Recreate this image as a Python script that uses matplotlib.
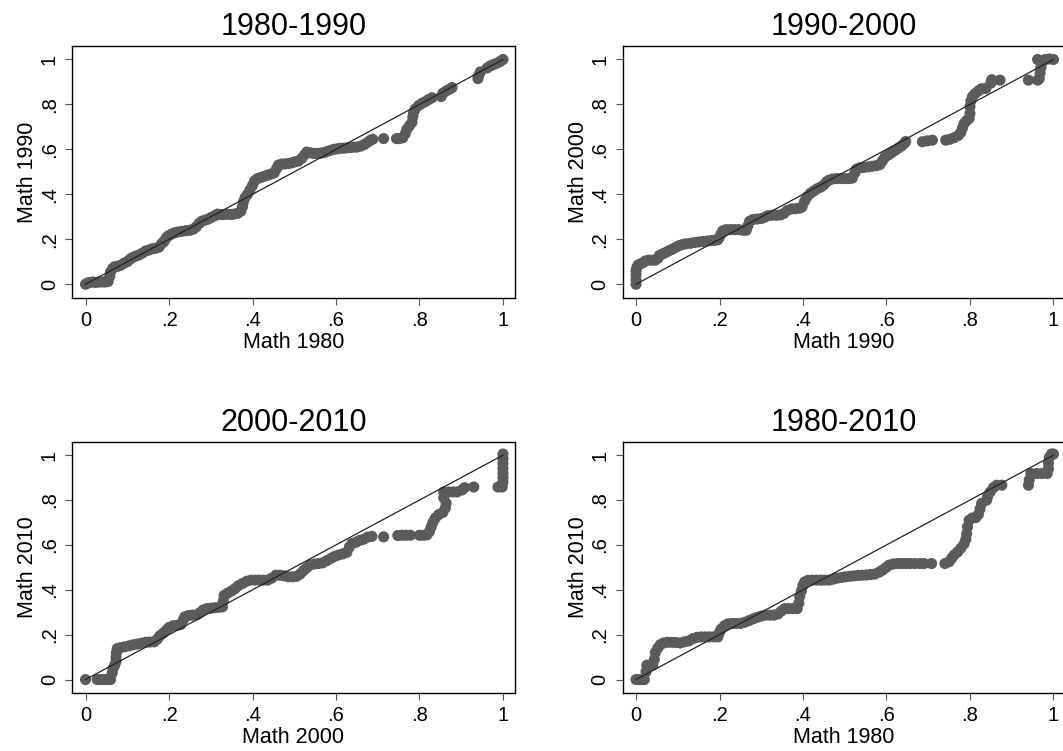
import matplotlib
matplotlib.use("Agg")
import matplotlib.pyplot as plt

plt.rcParams['font.family'] = ['Liberation Sans', 'DejaVu Sans']

# ---------------- data ----------------
titles = ["1980-1990", "1990-2000", "2000-2010", "1980-2010"]
xlabels = ["Math 1980", "Math 1990", "Math 2000", "Math 1980"]
ylabels = ["Math 1990", "Math 2000", "Math 2010", "Math 2010"]
tick_values = [0, 0.2, 0.4, 0.6, 0.8, 1.0]
tick_labels = ["0", ".2", ".4", ".6", ".8", "1"]
ref_line = [0.0, 1.0]

p1_x = [0, 0.005, 0.01, 0.018, 0.025, 0.032, 0.04, 0.047, 0.054, 0.058, 0.06, 0.065, 0.07, 0.078,
        0.085, 0.092, 0.1, 0.106, 0.112, 0.12, 0.128, 0.136, 0.144, 0.152, 0.16, 0.168, 0.176, 0.182,
        0.188, 0.193, 0.198, 0.205, 0.212, 0.22, 0.23, 0.24, 0.25, 0.258, 0.265, 0.272, 0.278, 0.286,
        0.294, 0.302, 0.31, 0.316, 0.324, 0.332, 0.34, 0.348, 0.356, 0.364, 0.372, 0.376, 0.378, 0.382,
        0.388, 0.394, 0.4, 0.405, 0.412, 0.42, 0.428, 0.436, 0.444, 0.452, 0.458, 0.462, 0.47, 0.478,
        0.486, 0.494, 0.502, 0.51, 0.518, 0.524, 0.53, 0.538, 0.546, 0.554, 0.562, 0.57, 0.578, 0.586,
        0.594, 0.602, 0.61, 0.618, 0.626, 0.634, 0.642, 0.65, 0.66, 0.668, 0.675, 0.682, 0.688, 0.714,
        0.745, 0.752, 0.76, 0.766, 0.77, 0.776, 0.782, 0.784, 0.786, 0.79, 0.798, 0.806, 0.814, 0.822,
        0.83, 0.852, 0.856, 0.864, 0.872, 0.878, 0.94, 0.942, 0.946, 0.962, 0.97, 0.978, 0.986, 0.994, 1.0]
p1_y = [0, 0.005, 0.008, 0.01, 0.008, 0.01, 0.01, 0.01, 0.012, 0.035, 0.055, 0.07, 0.078, 0.08,
        0.085, 0.093, 0.1, 0.11, 0.118, 0.125, 0.13, 0.138, 0.148, 0.152, 0.158, 0.16, 0.165, 0.18,
        0.19, 0.205, 0.215, 0.222, 0.228, 0.232, 0.235, 0.238, 0.24, 0.245, 0.255, 0.27, 0.28, 0.285,
        0.29, 0.298, 0.305, 0.312, 0.31, 0.31, 0.312, 0.31, 0.312, 0.315, 0.325, 0.345, 0.365, 0.385,
        0.4, 0.42, 0.44, 0.46, 0.47, 0.475, 0.48, 0.485, 0.49, 0.495, 0.515, 0.53, 0.535, 0.535,
        0.537, 0.54, 0.545, 0.548, 0.56, 0.575, 0.588, 0.585, 0.582, 0.582, 0.583, 0.585, 0.59, 0.595,
        0.6, 0.602, 0.605, 0.605, 0.607, 0.608, 0.61, 0.61, 0.615, 0.622, 0.63, 0.64, 0.645, 0.648,
        0.648, 0.648, 0.652, 0.67, 0.69, 0.705, 0.72, 0.745, 0.765, 0.78, 0.795, 0.805, 0.812, 0.822,
        0.83, 0.835, 0.85, 0.86, 0.868, 0.875, 0.915, 0.93, 0.945, 0.962, 0.972, 0.978, 0.984, 0.992, 1.0]

p2_x = [0, 0, 0, 0, 0.002, 0.005, 0.01, 0.016, 0.022, 0.03, 0.038, 0.046, 0.052, 0.056, 0.064, 0.072,
        0.08, 0.088, 0.096, 0.104, 0.112, 0.12, 0.13, 0.14, 0.15, 0.16, 0.17, 0.18, 0.188, 0.196, 0.2,
        0.204, 0.208, 0.216, 0.226, 0.236, 0.246, 0.256, 0.264, 0.268, 0.272, 0.28, 0.29, 0.3, 0.308,
        0.316, 0.326, 0.336, 0.346, 0.354, 0.362, 0.372, 0.382, 0.392, 0.398, 0.404, 0.41, 0.418, 0.426,
        0.434, 0.442, 0.45, 0.456, 0.462, 0.47, 0.48, 0.49, 0.5, 0.51, 0.518, 0.524, 0.528, 0.536, 0.546,
        0.556, 0.566, 0.576, 0.584, 0.59, 0.596, 0.604, 0.612, 0.62, 0.628, 0.636, 0.642, 0.646, 0.686,
        0.698, 0.71, 0.742, 0.752, 0.762, 0.772, 0.778, 0.782, 0.786, 0.792, 0.798, 0.8, 0.8, 0.802,
        0.806, 0.812, 0.82, 0.828, 0.838, 0.85, 0.852, 0.872, 0.94, 0.962, 0.966, 0.968, 0.97, 0.972,
        0.962, 0.98, 0.99, 1.0]
p2_y = [0, 0.02, 0.04, 0.06, 0.075, 0.085, 0.09, 0.095, 0.103, 0.107, 0.107, 0.107, 0.115, 0.128, 0.135,
        0.142, 0.15, 0.157, 0.165, 0.172, 0.177, 0.18, 0.182, 0.185, 0.188, 0.19, 0.192, 0.194, 0.195,
        0.198, 0.21, 0.225, 0.238, 0.243, 0.243, 0.243, 0.243, 0.24, 0.24, 0.26, 0.28, 0.288, 0.29, 0.292,
        0.298, 0.305, 0.307, 0.307, 0.308, 0.315, 0.328, 0.335, 0.336, 0.338, 0.345, 0.37, 0.39, 0.405,
        0.415, 0.425, 0.432, 0.442, 0.455, 0.463, 0.468, 0.47, 0.47, 0.47, 0.47, 0.472, 0.495, 0.512,
        0.518, 0.52, 0.522, 0.525, 0.528, 0.532, 0.548, 0.565, 0.575, 0.585, 0.595, 0.605, 0.615, 0.625,
        0.635, 0.634, 0.638, 0.641, 0.641, 0.645, 0.652, 0.662, 0.675, 0.695, 0.715, 0.728, 0.738, 0.76,
        0.79, 0.815, 0.835, 0.848, 0.86, 0.87, 0.871, 0.895, 0.91, 0.908, 0.908, 0.908, 0.915, 0.94,
        0.965, 0.985, 1.0, 1.0, 1.002, 1.0]

p3_x = [0, 0.028, 0.036, 0.044, 0.052, 0.06, 0.064, 0.066, 0.07, 0.073, 0.073, 0.074, 0.076, 0.084,
        0.094, 0.104, 0.114, 0.124, 0.134, 0.144, 0.154, 0.164, 0.172, 0.178, 0.186, 0.194, 0.2, 0.21,
        0.22, 0.228, 0.234, 0.238, 0.246, 0.256, 0.266, 0.274, 0.282, 0.29, 0.3, 0.31, 0.32, 0.328, 0.33,
        0.332, 0.34, 0.35, 0.358, 0.366, 0.376, 0.386, 0.396, 0.406, 0.416, 0.426, 0.436, 0.446, 0.456,
        0.466, 0.476, 0.486, 0.496, 0.506, 0.514, 0.522, 0.53, 0.538, 0.548, 0.558, 0.568, 0.578, 0.588,
        0.596, 0.606, 0.616, 0.626, 0.632, 0.638, 0.648, 0.656, 0.666, 0.676, 0.686, 0.714, 0.748, 0.758,
        0.768, 0.778, 0.8, 0.81, 0.818, 0.824, 0.828, 0.832, 0.838, 0.846, 0.856, 0.862, 0.864, 0.858,
        0.858, 0.87, 0.88, 0.89, 0.902, 0.908, 0.93, 0.988, 0.998, 1.0, 1.0, 1.0, 1.0, 1.0, 1.0, 1.0]
p3_y = [0, 0, 0, 0, 0, 0, 0.03, 0.05, 0.065, 0.08, 0.1, 0.12, 0.138, 0.142, 0.146, 0.15, 0.155, 0.158,
        0.162, 0.166, 0.167, 0.168, 0.18, 0.195, 0.207, 0.22, 0.232, 0.24, 0.242, 0.245, 0.265, 0.28,
        0.285, 0.287, 0.288, 0.298, 0.31, 0.316, 0.318, 0.32, 0.322, 0.324, 0.35, 0.375, 0.385, 0.395,
        0.405, 0.418, 0.428, 0.438, 0.443, 0.443, 0.443, 0.443, 0.443, 0.452, 0.465, 0.465, 0.462, 0.458,
        0.458, 0.46, 0.47, 0.485, 0.498, 0.51, 0.515, 0.517, 0.52, 0.53, 0.54, 0.548, 0.555, 0.56, 0.567,
        0.59, 0.606, 0.612, 0.62, 0.625, 0.635, 0.638, 0.636, 0.642, 0.643, 0.643, 0.643, 0.643, 0.643,
        0.645, 0.66, 0.68, 0.7, 0.72, 0.735, 0.745, 0.765, 0.785, 0.81, 0.836, 0.836, 0.836, 0.836, 0.845,
        0.855, 0.858, 0.858, 0.858, 0.88, 0.9, 0.92, 0.94, 0.963, 0.985, 1.005]

p4_x = [0, 0.008, 0.014, 0.02, 0.024, 0.026, 0.034, 0.04, 0.044, 0.046, 0.052, 0.058, 0.066, 0.076,
        0.086, 0.096, 0.106, 0.116, 0.126, 0.136, 0.146, 0.156, 0.166, 0.176, 0.186, 0.196, 0.2, 0.204,
        0.212, 0.22, 0.23, 0.24, 0.25, 0.26, 0.27, 0.28, 0.29, 0.3, 0.31, 0.32, 0.33, 0.34, 0.348, 0.356,
        0.366, 0.376, 0.386, 0.39, 0.392, 0.396, 0.4, 0.404, 0.412, 0.422, 0.432, 0.442, 0.452, 0.462,
        0.472, 0.482, 0.492, 0.502, 0.512, 0.522, 0.532, 0.542, 0.552, 0.562, 0.572, 0.582, 0.59, 0.598,
        0.606, 0.616, 0.626, 0.636, 0.646, 0.656, 0.668, 0.68, 0.69, 0.708, 0.74, 0.75, 0.756, 0.762,
        0.77, 0.778, 0.786, 0.79, 0.792, 0.794, 0.798, 0.806, 0.814, 0.82, 0.824, 0.828, 0.84, 0.842,
        0.848, 0.856, 0.864, 0.876, 0.94, 0.942, 0.946, 0.96, 0.972, 0.985, 0.988, 0.988, 0.99, 0.995, 1.0]
p4_y = [0, 0, 0, 0, 0.035, 0.064, 0.064, 0.064, 0.09, 0.12, 0.14, 0.155, 0.163, 0.166, 0.166, 0.165,
        0.163, 0.168, 0.172, 0.182, 0.188, 0.19, 0.19, 0.19, 0.19, 0.19, 0.21, 0.225, 0.24, 0.248, 0.25,
        0.25, 0.25, 0.255, 0.262, 0.27, 0.277, 0.283, 0.287, 0.287, 0.287, 0.292, 0.305, 0.316, 0.316,
        0.316, 0.316, 0.34, 0.37, 0.395, 0.42, 0.435, 0.442, 0.443, 0.443, 0.443, 0.443, 0.443, 0.447,
        0.452, 0.455, 0.458, 0.46, 0.462, 0.464, 0.465, 0.466, 0.468, 0.47, 0.478, 0.487, 0.498, 0.51,
        0.515, 0.517, 0.517, 0.517, 0.517, 0.517, 0.517, 0.517, 0.517, 0.517, 0.525, 0.54, 0.555, 0.568,
        0.585, 0.605, 0.625, 0.65, 0.68, 0.71, 0.72, 0.722, 0.735, 0.76, 0.785, 0.8, 0.815, 0.835, 0.855,
        0.866, 0.866, 0.866, 0.89, 0.918, 0.918, 0.918, 0.918, 0.94, 0.965, 0.99, 1.005, 1.005]

series = [(p1_x, p1_y), (p2_x, p2_y), (p3_x, p3_y), (p4_x, p4_y)]

# ---------------- layout ----------------
W, H = 1063, 751
fig = plt.figure(figsize=(W / 100, H / 100), dpi=100)
fig.patch.set_facecolor('white')

# (left px, top px, right px, bottom px)
boxes = [(72, 46, 515, 297.7), (622.5, 46, 1065.5, 297.7),
         (72, 441.7, 515, 693), (622.5, 441.7, 1065.5, 693)]

for i, (l, t, r, b) in enumerate(boxes):
    ax = fig.add_axes([l / W, (H - b) / H, (r - l) / W, (b - t) / H])
    xs, ys = series[i]
    ax.scatter(xs, ys, s=64, color='#5b5b5b', edgecolors='none', zorder=2)
    ax.plot(ref_line, ref_line, color='#222222', lw=0.9, zorder=3)
    ax.set_xlim(-0.0324, 1.0288)
    ax.set_ylim(-0.06, 1.06)
    ax.set_xticks(tick_values)
    ax.set_xticklabels(tick_labels)
    ax.set_yticks(tick_values)
    ax.set_yticklabels(tick_labels, rotation=90, va='center')
    ax.tick_params(axis='both', direction='out', length=5, width=0.8, color='#555555',
                   labelsize=14.5, pad=4.5, labelcolor='black')
    for sp in ax.spines.values():
        sp.set_color('black')
        sp.set_linewidth(1.0)
    ax.set_title(titles[i], fontsize=22, pad=8)
    ax.set_xlabel(xlabels[i], fontsize=15.5, labelpad=1.5)
    ax.set_ylabel(ylabels[i], fontsize=15.5, labelpad=1)

fig.savefig('out.png', dpi=100)
